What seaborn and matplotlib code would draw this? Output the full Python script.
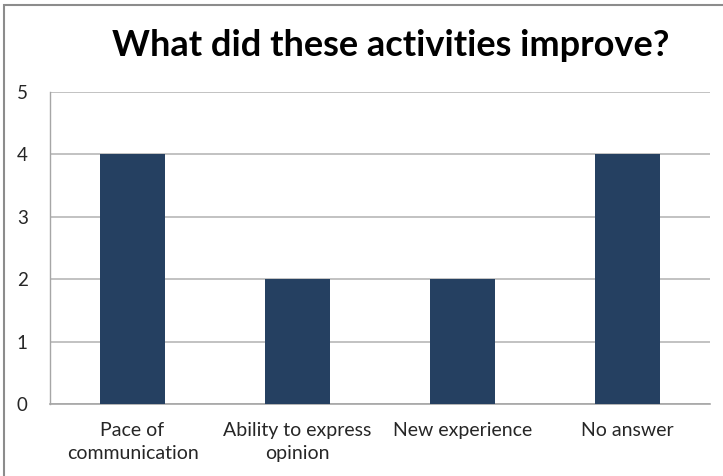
import matplotlib
matplotlib.use("Agg")
import matplotlib.pyplot as plt
import seaborn as sns
import pandas as pd
from matplotlib.patches import Rectangle

categories = ["Pace of\ncommunication", "Ability to express\nopinion", "New experience", "No answer"]
counts = [4, 2, 2, 4]
y_ticks = [0, 1, 2, 3, 4, 5]

sns.set_style("white")
plt.rcParams["font.family"] = ["Lato", "DejaVu Sans"]

df = pd.DataFrame({"category": categories, "count": counts})

W, H = 723, 476
fig = plt.figure(figsize=(W / 100, H / 100), dpi=100)
ax = fig.add_axes([50 / W, 1 - 404 / H, 660 / W, 312 / H])

sns.barplot(data=df, x="category", y="count", color="#254061", width=0.394,
            saturation=1, linewidth=0, ax=ax, zorder=3)

ax.set_ylim(0, 5)
ax.set_xlim(-0.5, len(categories) - 0.5)
ax.set_yticks(y_ticks)
ax.set_yticklabels([str(t) for t in y_ticks], fontsize=13.5)
ax.tick_params(axis="x", labelsize=14, length=0, pad=13)
ax.tick_params(axis="y", length=0, pad=16)
ax.set_xlabel("")
ax.set_ylabel("")
for lbl in ax.get_xticklabels():
    lbl.set_linespacing(1.45)

ax.yaxis.grid(True, color="#b8b8b8", linewidth=1.2, zorder=0)
for side in ["top", "right"]:
    ax.spines[side].set_visible(False)
ax.spines["left"].set_color("#a6a6a6")
ax.spines["bottom"].set_color("#a6a6a6")
ax.spines["left"].set_linewidth(1.0)
ax.spines["bottom"].set_linewidth(1.2)

fig.text(391 / W, 1 - 46 / H, "What did these activities improve?",
         ha="center", va="center", fontsize=26, fontweight="bold", color="black")

# outer chart frame
fig.patches.append(Rectangle((4 / W, -0.1), 1.2, 1 - 5 / H + 0.1,
                             transform=fig.transFigure, fill=False,
                             edgecolor="#8c8c8c", linewidth=1.5))

fig.savefig("out.png", dpi=100)
